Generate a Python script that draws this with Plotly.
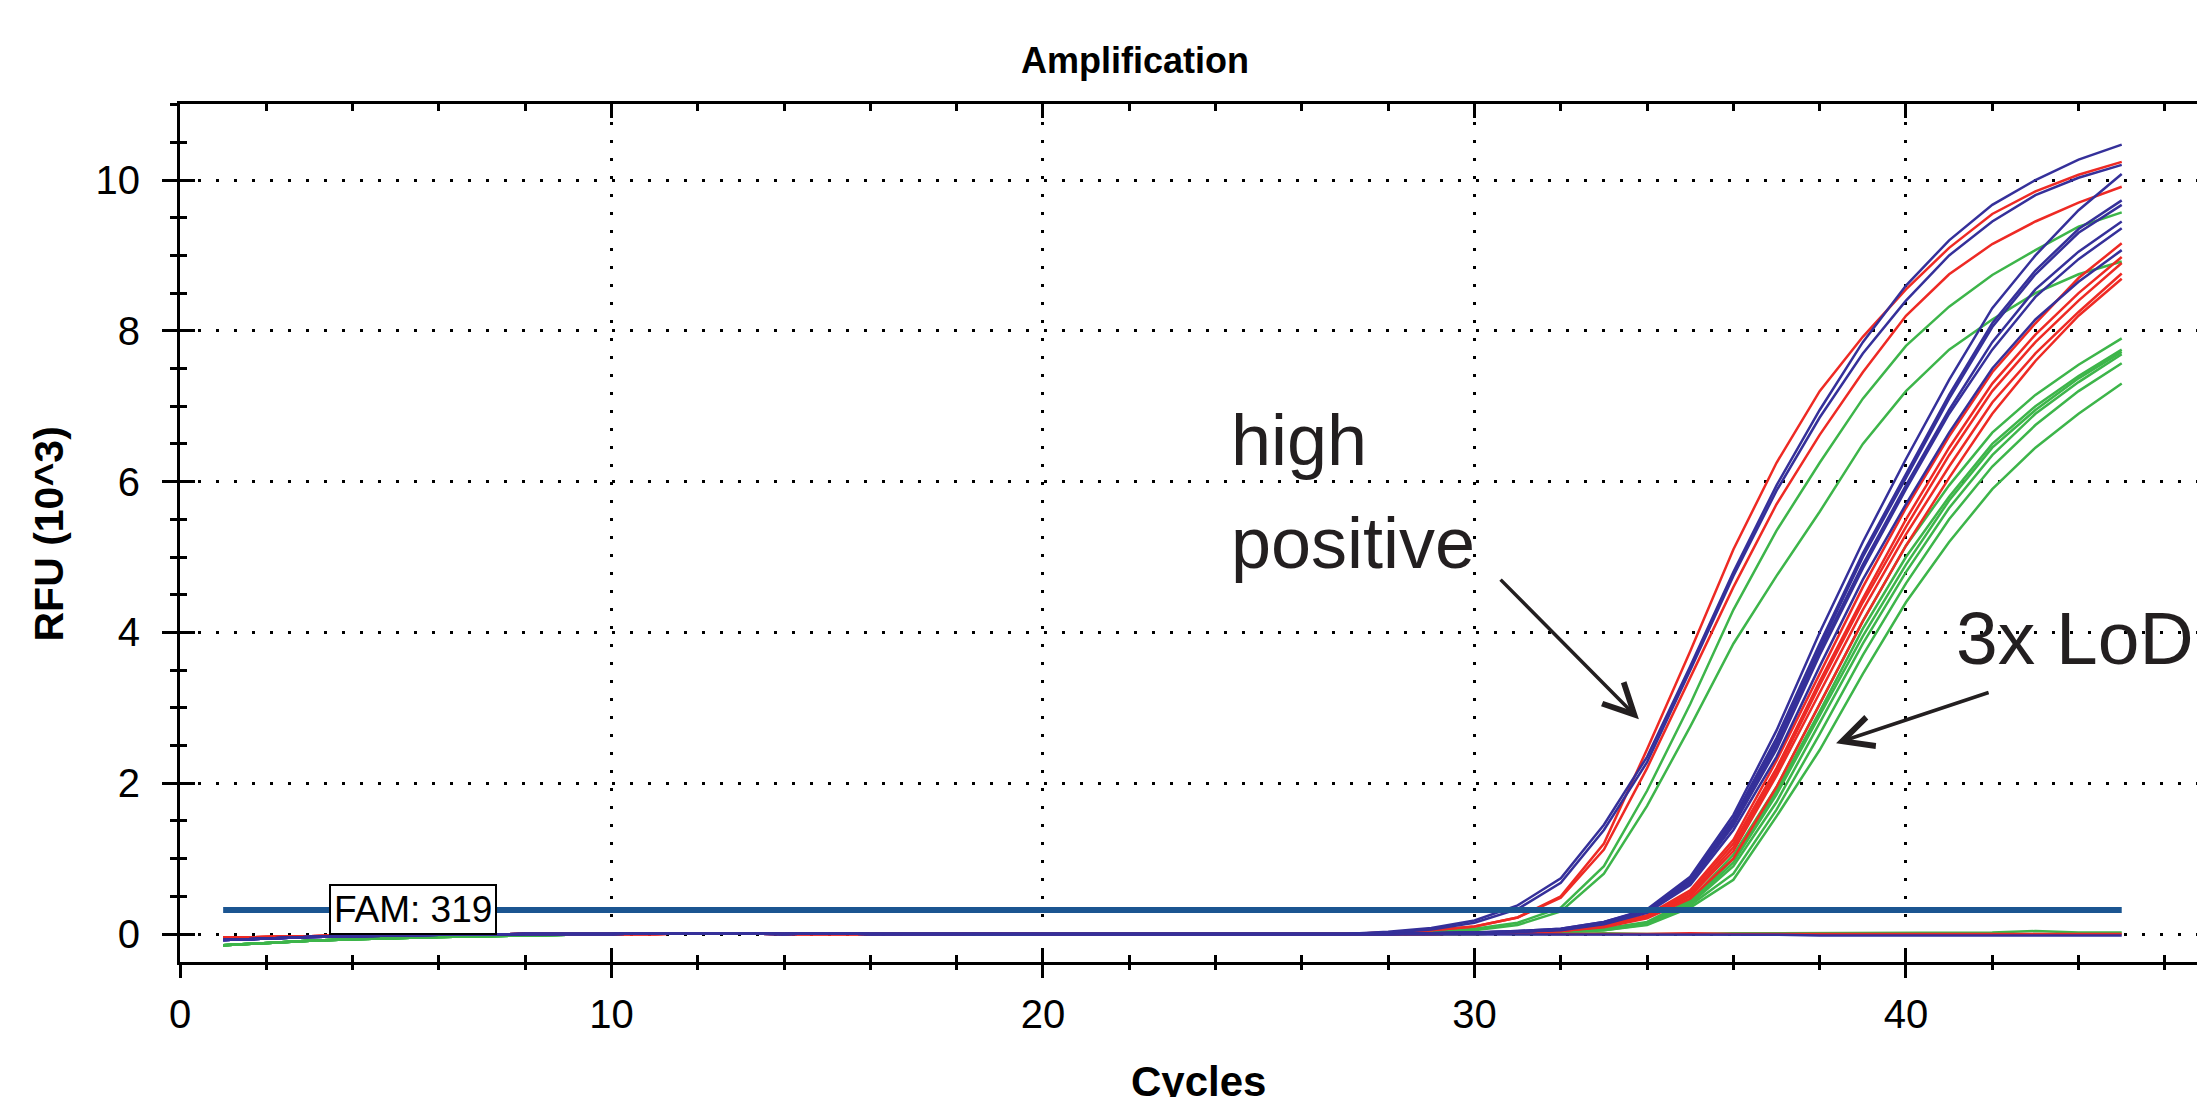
import plotly.graph_objects as go

# ---------------- data (RFU in units of 10^3) ----------------
cycles = list(range(1, 46))

BASE_BLUE = [-0.08, -0.06, -0.04, -0.03, -0.02, -0.01, -0.01, 0.00, 0.00, 0.00, 0.01, 0.01, 0.01, 0.00,
             0.01, 0.00, 0.00, 0.00, 0.00, 0.00, 0.00, 0.00, 0.00, 0.00, 0.00, 0.00, 0.00]
BASE_RED = [-0.05, -0.04, -0.03, -0.02, -0.01, -0.01, 0.00, 0.00, 0.00, 0.00, 0.00, 0.01, 0.01, 0.00,
            0.00, 0.00, 0.00, 0.00, 0.01, 0.00, 0.00, 0.00, 0.00, 0.00, 0.00, 0.00, 0.00]
BASE_GREEN = [-0.15, -0.12, -0.09, -0.07, -0.05, -0.04, -0.03, -0.02, -0.01, 0.00, 0.01, 0.01, 0.01, 0.01,
              0.01, 0.01, 0.00, 0.00, 0.00, 0.00, 0.00, 0.00, 0.00, 0.00, 0.00, 0.00, 0.00]

# high positive samples, cycles 28-45
high_blue_1 = BASE_BLUE + [0.03, 0.08, 0.18, 0.38, 0.74, 1.45, 2.35, 3.55, 4.80, 5.95, 6.95, 7.85, 8.60, 9.20, 9.67, 10.00, 10.27, 10.47]
high_blue_2 = BASE_BLUE + [0.02, 0.06, 0.15, 0.33, 0.68, 1.38, 2.28, 3.50, 4.75, 5.88, 6.85, 7.70, 8.40, 9.00, 9.45, 9.80, 10.03, 10.20]
high_red_1 = BASE_RED + [0.02, 0.05, 0.10, 0.22, 0.50, 1.20, 2.45, 3.75, 5.10, 6.25, 7.20, 7.92, 8.55, 9.10, 9.55, 9.85, 10.07, 10.24]
high_red_2 = BASE_RED + [0.02, 0.05, 0.10, 0.22, 0.48, 1.12, 2.20, 3.40, 4.60, 5.70, 6.62, 7.45, 8.20, 8.75, 9.15, 9.45, 9.70, 9.91]
high_green_1 = BASE_GREEN + [0.01, 0.03, 0.07, 0.15, 0.35, 0.90, 1.90, 3.05, 4.30, 5.35, 6.25, 7.10, 7.80, 8.32, 8.74, 9.07, 9.38, 9.57]
high_green_2 = BASE_GREEN + [0.01, 0.02, 0.05, 0.12, 0.30, 0.80, 1.70, 2.75, 3.85, 4.75, 5.60, 6.50, 7.20, 7.75, 8.15, 8.50, 8.75, 8.92]

# 3x LoD samples, cycles 28-45
lod_blue_1 = BASE_BLUE + [0.00, 0.01, 0.02, 0.04, 0.07, 0.16, 0.33, 0.76, 1.58, 2.70, 4.00, 5.20, 6.30, 7.35, 8.30, 9.00, 9.60, 10.08]
lod_blue_2 = BASE_BLUE + [0.00, 0.01, 0.02, 0.04, 0.07, 0.16, 0.32, 0.74, 1.53, 2.60, 3.85, 5.05, 6.10, 7.15, 8.10, 8.80, 9.35, 9.73]
lod_blue_3 = BASE_BLUE + [0.00, 0.01, 0.02, 0.03, 0.06, 0.15, 0.31, 0.72, 1.50, 2.55, 3.80, 5.00, 6.05, 7.10, 8.05, 8.75, 9.30, 9.67]
lod_blue_4 = BASE_BLUE + [0.00, 0.01, 0.02, 0.03, 0.06, 0.14, 0.30, 0.70, 1.47, 2.50, 3.75, 4.90, 5.95, 6.95, 7.85, 8.55, 9.05, 9.45]
lod_blue_5 = BASE_BLUE + [0.00, 0.01, 0.02, 0.03, 0.06, 0.14, 0.29, 0.68, 1.44, 2.45, 3.70, 4.85, 5.90, 6.90, 7.75, 8.45, 8.95, 9.36]
lod_blue_6 = BASE_BLUE + [0.00, 0.00, 0.01, 0.03, 0.05, 0.13, 0.28, 0.65, 1.38, 2.35, 3.55, 4.70, 5.70, 6.65, 7.50, 8.15, 8.65, 9.07]
lod_red_1 = BASE_RED + [0.00, 0.01, 0.01, 0.03, 0.05, 0.12, 0.25, 0.58, 1.25, 2.30, 3.45, 4.60, 5.65, 6.60, 7.45, 8.10, 8.70, 9.16]
lod_red_2 = BASE_RED + [0.00, 0.00, 0.01, 0.02, 0.05, 0.11, 0.24, 0.55, 1.20, 2.20, 3.35, 4.45, 5.50, 6.45, 7.30, 7.95, 8.50, 8.98]
lod_red_3 = BASE_RED + [0.00, 0.00, 0.01, 0.02, 0.04, 0.10, 0.23, 0.52, 1.15, 2.15, 3.30, 4.40, 5.40, 6.35, 7.20, 7.85, 8.40, 8.90]
lod_red_4 = BASE_RED + [0.00, 0.00, 0.01, 0.02, 0.04, 0.10, 0.22, 0.50, 1.10, 2.10, 3.20, 4.30, 5.30, 6.20, 7.05, 7.70, 8.25, 8.76]
lod_red_5 = BASE_RED + [0.00, 0.00, 0.01, 0.02, 0.04, 0.09, 0.21, 0.47, 1.00, 1.95, 3.05, 4.15, 5.15, 6.05, 6.90, 7.60, 8.20, 8.69]
lod_green_1 = BASE_GREEN + [0.00, 0.00, 0.01, 0.02, 0.03, 0.07, 0.16, 0.45, 1.05, 1.95, 3.05, 4.15, 5.15, 5.95, 6.65, 7.15, 7.55, 7.90]
lod_green_2 = BASE_GREEN + [0.00, 0.00, 0.01, 0.02, 0.03, 0.07, 0.15, 0.43, 1.00, 1.90, 2.95, 4.05, 5.00, 5.80, 6.50, 7.00, 7.40, 7.75]
lod_green_3 = BASE_GREEN + [0.00, 0.00, 0.01, 0.01, 0.03, 0.06, 0.15, 0.41, 0.95, 1.85, 2.90, 3.95, 4.90, 5.75, 6.45, 6.95, 7.37, 7.72]
lod_green_4 = BASE_GREEN + [0.00, 0.00, 0.00, 0.01, 0.03, 0.06, 0.14, 0.40, 0.90, 1.75, 2.80, 3.85, 4.80, 5.65, 6.35, 6.90, 7.32, 7.69]
lod_green_5 = BASE_GREEN + [0.00, 0.00, 0.00, 0.01, 0.02, 0.05, 0.13, 0.38, 0.80, 1.65, 2.65, 3.70, 4.65, 5.50, 6.20, 6.75, 7.20, 7.57]
lod_green_6 = BASE_GREEN + [0.00, 0.00, 0.00, 0.01, 0.02, 0.05, 0.12, 0.35, 0.72, 1.56, 2.44, 3.45, 4.40, 5.20, 5.90, 6.45, 6.90, 7.30]

# negative controls, cycles 28-45
neg_blue = BASE_BLUE + [0.00, 0.00, -0.01, -0.01, 0.00, -0.01, -0.01, -0.01, -0.01, -0.01, -0.02, -0.02, -0.01, -0.01, -0.02, -0.01, -0.02, -0.02]
neg_red = BASE_RED + [0.00, 0.00, 0.00, 0.01, 0.00, 0.00, 0.00, 0.01, 0.00, 0.00, 0.00, -0.01, 0.00, 0.00, 0.00, 0.00, -0.01, 0.00]
neg_green = BASE_GREEN + [0.00, 0.00, 0.01, 0.00, 0.00, 0.01, 0.00, 0.00, 0.01, 0.01, 0.01, 0.01, 0.01, 0.02, 0.02, 0.04, 0.02, 0.02]

threshold_x = [1, 45]
threshold_y = [0.319, 0.319]
threshold_label = "FAM: 319"

x_ticks = [0, 10, 20, 30, 40]
y_ticks = [0, 2, 4, 6, 8, 10]

# ---------------- styling ----------------
BLUE = "#35309a"
RED = "#ee2a24"
GREEN = "#3db54a"
THRESH = "#1b5591"
TXT = "#231f20"
FONT = "Liberation Sans, Arial, Helvetica, sans-serif"

series = [
    (GREEN, [high_green_1, high_green_2, lod_green_1, lod_green_2, lod_green_3, lod_green_4, lod_green_5, lod_green_6, neg_green]),
    (RED, [high_red_1, high_red_2, lod_red_1, lod_red_2, lod_red_3, lod_red_4, lod_red_5, neg_red]),
    (BLUE, [high_blue_1, high_blue_2, lod_blue_1, lod_blue_2, lod_blue_3, lod_blue_4, lod_blue_5, lod_blue_6, neg_blue]),
]

fig = go.Figure()
for color, curves in series:
    for vals in curves:
        fig.add_trace(go.Scatter(x=cycles, y=vals, mode="lines",
                                 line=dict(color=color, width=2.5),
                                 showlegend=False, hoverinfo="skip"))

fig.add_trace(go.Scatter(x=threshold_x, y=threshold_y, mode="lines",
                         line=dict(color=THRESH, width=6),
                         showlegend=False, hoverinfo="skip"))

XR = [0, 46.93]
YR = [-0.371, 11.008]

grid = dict(showgrid=True, gridcolor="black", gridwidth=2.5, griddash="3px,15px")

# page body adds an 8px offset; the figure is sized so it ends at the window edge
fig.update_layout(
    width=2197, height=1089,
    margin=dict(l=172, r=0, t=96, b=135),
    paper_bgcolor="white", plot_bgcolor="white",
    showlegend=False,
    font=dict(family=FONT, color="black"),
    xaxis=dict(range=XR, showline=True, linecolor="black", linewidth=3, mirror="ticks",
               ticks="inside", ticklen=14, tickwidth=3, tickcolor="black",
               tickvals=x_ticks,
               minor=dict(dtick=2, tick0=0, ticks="inside", ticklen=7, tickwidth=2.5,
                          tickcolor="black", showgrid=False),
               zeroline=False, showticklabels=False, **grid),
    xaxis2=dict(range=XR, overlaying="x", anchor="y", side="bottom", showline=False,
                ticks="outside", ticklen=15, tickwidth=3, tickcolor="black",
                tickvals=x_ticks, ticktext=[str(v) for v in x_ticks],
                minor=dict(dtick=2, tick0=0, ticks="outside", ticklen=7, tickwidth=2.5,
                           tickcolor="black", showgrid=False),
                showgrid=False, zeroline=False, ticklabelstandoff=2,
                tickfont=dict(family=FONT, size=40, color="black")),
    yaxis=dict(range=YR, showline=True, linecolor="black", linewidth=3, mirror=False,
               ticks="outside", ticklen=15, tickwidth=3, tickcolor="black",
               tickvals=y_ticks, ticktext=[str(v) for v in y_ticks],
               minor=dict(dtick=0.5, tick0=0, ticks="outside", ticklen=7, tickwidth=2.5,
                          tickcolor="black", showgrid=False),
               zeroline=False, ticklabelstandoff=14,
               tickfont=dict(family=FONT, size=40, color="black"), **grid),
    yaxis2=dict(range=YR, overlaying="y", anchor="x", side="left", showline=False,
                ticks="inside", ticklen=15, tickwidth=3, tickcolor="black",
                tickvals=y_ticks,
                minor=dict(dtick=0.5, tick0=0, ticks="inside", ticklen=7, tickwidth=2.5,
                           tickcolor="black", showgrid=False),
                showgrid=False, zeroline=False, showticklabels=False),
)

# invisible trace to activate the overlay axes
fig.add_trace(go.Scatter(x=[None], y=[None], xaxis="x2", yaxis="y2", showlegend=False, hoverinfo="skip"))

annotations = [
    dict(text="<b>Amplification</b>", xref="paper", yref="paper", x=0.4716, y=1.0507,
         xanchor="center", yanchor="middle", showarrow=False,
         font=dict(family=FONT, size=36, color="black")),
    dict(text="<b>Cycles</b>", xref="paper", yref="paper", x=0.5032, y=-0.1394,
         xanchor="center", yanchor="middle", showarrow=False,
         font=dict(family=FONT, size=42, color="black")),
    dict(text="<b>RFU (10^3)</b>", xref="paper", yref="paper", x=-0.0647, y=0.4994,
         xanchor="center", yanchor="middle", showarrow=False, textangle=-90,
         font=dict(family=FONT, size=41, color="black")),
    dict(text=threshold_label, xref="x", yref="y", x=5.4, y=threshold_y[0],
         xanchor="center", yanchor="middle", showarrow=False,
         bgcolor="white", bordercolor="black", borderwidth=2, borderpad=3,
         font=dict(family=FONT, size=37, color="black")),
    dict(text="high", xref="x", yref="y", x=24.30, y=6.55, xanchor="left", yanchor="middle",
         showarrow=False, font=dict(family=FONT, size=72, color=TXT)),
    dict(text="positive", xref="x", yref="y", x=24.30, y=5.19, xanchor="left", yanchor="middle",
         showarrow=False, font=dict(family=FONT, size=72, color=TXT)),
    dict(text="3x LoD", xref="x", yref="y", x=41.11, y=3.92, xanchor="left", yanchor="middle",
         showarrow=False, font=dict(family=FONT, size=75, color=TXT)),
    dict(text="", xref="x", yref="y", x=33.81, y=2.85, axref="x", ayref="y", ax=30.57, ay=4.72,
         showarrow=True, arrowhead=5, arrowsize=1.7, arrowwidth=3.5, arrowcolor=TXT),
    dict(text="", xref="x", yref="y", x=38.38, y=2.53, axref="x", ayref="y", ax=41.95, ay=3.21,
         showarrow=True, arrowhead=5, arrowsize=1.7, arrowwidth=3.5, arrowcolor=TXT),
]
fig.update_layout(annotations=annotations)

fig.write_html("out.html")
